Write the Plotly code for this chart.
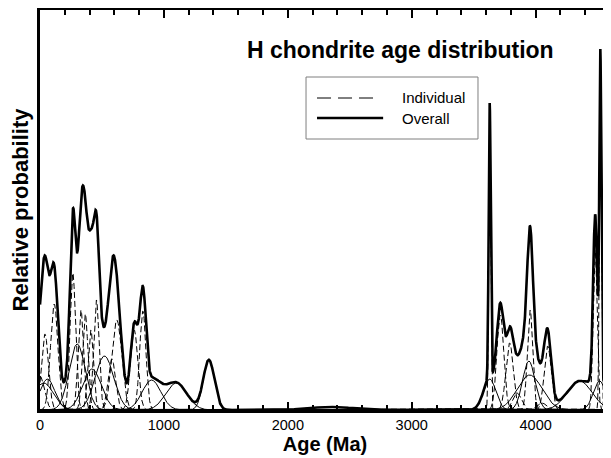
import numpy as np
import plotly.graph_objects as go

# Individual H chondrite ages (Ma), their 1-sigma uncertainties (Ma) and peak heights (relative probability)
ages_ma = [0, 40, 115, 60, 30, 265, 300, 330, 365, 410, 455, 420, 520, 580, 620, 760, 830, 900, 1100, 1363, 2350,
           3629, 3629, 3715, 3790, 3850, 3955, 3945, 3952, 4097, 4355, 4480, 4522, 4516, 4050]
sigma_ma = [35, 28, 30, 60, 80, 22, 65, 22, 22, 22, 22, 75, 75, 30, 40, 30, 25, 75, 85, 45, 180,
            8, 50, 28, 30, 35, 22, 50, 100, 28, 100, 16, 8, 50, 40]
peak_heights = [34, 76, 106, 31, 27, 137, 66, 100, 96, 80, 110, 41, 54, 51, 90, 80, 99, 30, 27, 50, 3,
                275, 31, 95, 67, 17, 100, 49, 35, 64, 29, 160, 320, 29, 7]

x_ticks = [0, 1000, 2000, 3000, 4000]
x_tick_labels = ["0", "1000", "2000", "3000", "4000"]

FONT = "Liberation Sans, Arial, Helvetica, sans-serif"

age_grid = np.arange(0, 4601, 1.0)
a = np.array(ages_ma, float)
s = np.array(sigma_ma, float)
h = np.array(peak_heights, float)
curves = np.exp(-0.5 * ((age_grid[:, None] - a[None, :]) / s[None, :]) ** 2) * h[None, :]
overall = curves.sum(axis=1)

fig = go.Figure()
for i in range(len(ages_ma)):
    wide = sigma_ma[i] >= 45
    fig.add_trace(go.Scatter(
        x=age_grid, y=curves[:, i], mode="lines",
        line=dict(color="black", width=1, dash="solid" if wide else "6px,3px"),
        showlegend=False, hoverinfo="skip"))
fig.add_trace(go.Scatter(x=age_grid, y=overall, mode="lines",
                         line=dict(color="black", width=2.6), showlegend=False, name="Overall"))

# Title inside plot
fig.add_annotation(xref="paper", yref="paper", x=0.632, y=0.9, text="<b>H chondrite age distribution</b>",
                   showarrow=False, xanchor="center", yanchor="middle",
                   font=dict(family=FONT, size=23, color="black"))

# Legend box (drawn)
fig.add_shape(type="rect", xref="paper", yref="paper", x0=0.4667, x1=0.7684, y0=0.6775, y1=0.8325,
              line=dict(color="#7f7f7f", width=1), fillcolor="white", layer="above")
fig.add_shape(type="line", xref="paper", yref="paper", x0=0.486, x1=0.593, y0=0.78, y1=0.78,
              line=dict(color="black", width=1, dash="14px,7px"), layer="above")
fig.add_shape(type="line", xref="paper", yref="paper", x0=0.486, x1=0.602, y0=0.73, y1=0.73,
              line=dict(color="black", width=2.6), layer="above")
fig.add_annotation(xref="paper", yref="paper", x=0.6316, y=0.78, text="Individual", showarrow=False,
                   xanchor="left", yanchor="middle", font=dict(family=FONT, size=15, color="black"))
fig.add_annotation(xref="paper", yref="paper", x=0.6316, y=0.73, text="Overall", showarrow=False,
                   xanchor="left", yanchor="middle", font=dict(family=FONT, size=15, color="black"))

# faint right border
fig.add_shape(type="line", xref="paper", yref="paper", x0=0.997, x1=0.997, y0=0, y1=1,
              line=dict(color="#c8c8c8", width=1), layer="above")

fig.update_layout(
    width=611, height=458,
    margin=dict(l=32, r=9, t=2, b=56),
    plot_bgcolor="white", paper_bgcolor="white",
    font=dict(family=FONT, color="black"),
    showlegend=False,
    xaxis=dict(range=[0, 4600], showgrid=False, zeroline=False, automargin=False,
               tickmode="array", tickvals=x_ticks, ticktext=x_tick_labels,
               ticks="inside", ticklen=8, tickwidth=2, tickcolor="black",
               minor=dict(tickmode="linear", tick0=0, dtick=200, ticks="inside", ticklen=5, tickwidth=2, tickcolor="black"),
               showline=True, linewidth=3, linecolor="black", mirror="allticks",
               tickfont=dict(family=FONT, size=14.5, color="black"),
               title=dict(text="<b>Age (Ma)</b>", standoff=4, font=dict(family=FONT, size=20, color="black"))),
    yaxis=dict(range=[0, 400], showgrid=False, zeroline=False, automargin=False,
               showticklabels=False, ticks="",
               showline=True, linewidth=3, linecolor="black",
               title=dict(text="<b>Relative probability</b>", standoff=6,
                          font=dict(family=FONT, size=22, color="black"))),
)
fig.write_html("out.html")
